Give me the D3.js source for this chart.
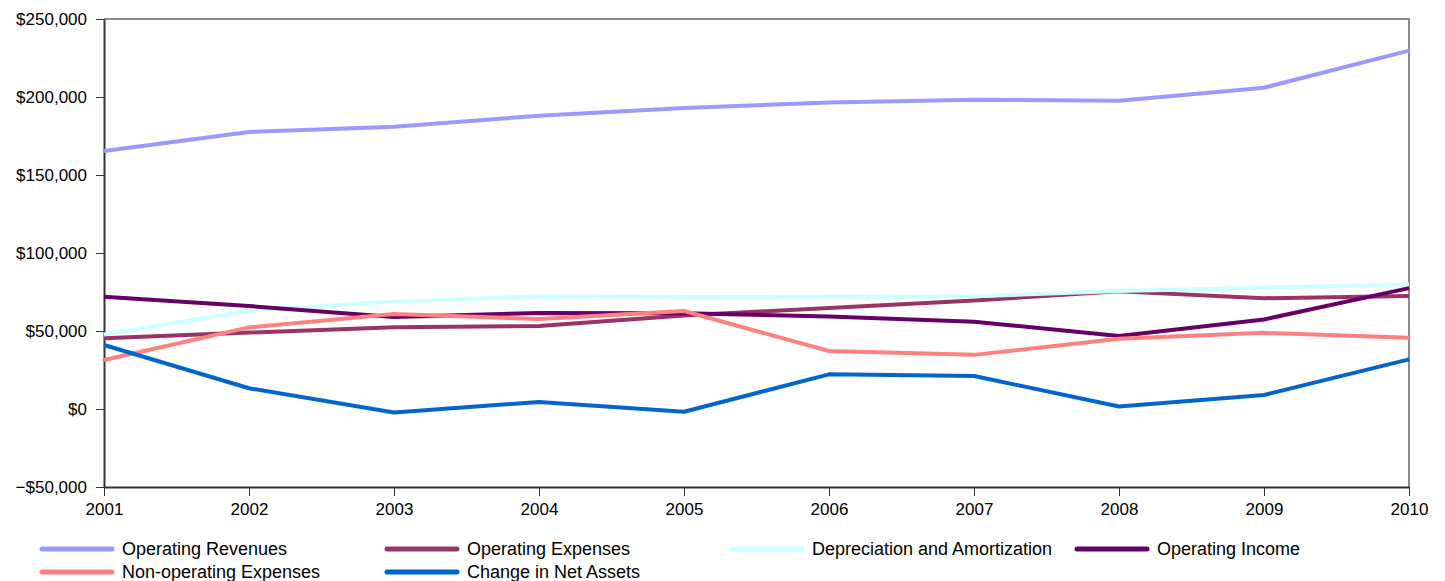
<!DOCTYPE html>
<html>
<head>
<meta charset="utf-8">
<script src="https://cdn.jsdelivr.net/npm/d3@7"></script>
<style>
  body { margin: 0; background: #fff; }
  svg text { font-family: "Liberation Sans", Arial, sans-serif; fill: #000; }
</style>
</head>
<body>
<svg id="chart" width="1445" height="581"></svg>
<script>
// data (thousands of dollars)
var years = [2001, 2002, 2003, 2004, 2005, 2006, 2007, 2008, 2009, 2010]
var operatingRevenues = [165400, 177600, 181000, 188000, 193000, 196400, 198300, 197600, 206000, 229700]
var operatingExpenses = [45400, 49000, 52400, 53200, 60000, 64700, 69600, 75400, 71000, 72400]
var depreciation = [47800, 63000, 68900, 72200, 71800, 71900, 72200, 75600, 77800, 80000]
var operatingIncome = [71900, 66000, 58900, 61600, 61400, 59300, 56000, 46800, 57400, 77500]
var nonOperating = [31400, 52300, 60900, 57700, 62800, 37200, 34700, 45000, 48800, 45700]
var changeNetAssets = [41000, 13300, -2300, 4500, -1800, 22200, 21200, 1600, 9000, 31800]
var yTicks = [-50000, 0, 50000, 100000, 150000, 200000, 250000]

var series = [
    {name: "Operating Revenues", color: "#9999ff", values: operatingRevenues},
    {name: "Operating Expenses", color: "#993366", values: operatingExpenses},
    {name: "Depreciation and Amortization", color: "#ccffff", values: depreciation},
    {name: "Operating Income", color: "#660066", values: operatingIncome},
    {name: "Non-operating Expenses", color: "#ff8080", values: nonOperating},
    {name: "Change in Net Assets", color: "#0066cc", values: changeNetAssets}
]

var svg = d3.select("#chart")
var plotLeft = 104, plotRight = 1409, plotTop = 19, plotBottom = 487

var x = d3.scaleLinear().domain([2001, 2010]).range([plotLeft, plotRight])
var y = d3.scaleLinear().domain([-50000, 250000]).range([plotBottom, plotTop])

var money = function(d) {
    return d < 0 ? "\u2212$" + d3.format(",")(-d) : "$" + d3.format(",")(d)
}

// frame (top and right)
svg.append("path")
    .attr("d", "M" + plotLeft + "," + plotTop + "H" + plotRight + "V" + plotBottom)
    .attr("fill", "none").attr("stroke", "#8a8a8a").attr("stroke-width", 2)

var yAxis = svg.append("g").attr("transform", "translate(" + plotLeft + ",0)")
    .call(d3.axisLeft(y).tickValues(yTicks).tickFormat(money).tickSize(8).tickSizeOuter(0))
var xAxis = svg.append("g").attr("transform", "translate(0," + plotBottom + ")")
    .call(d3.axisBottom(x).tickValues(years).tickFormat(d3.format("d")).tickSize(9).tickSizeOuter(0))

svg.selectAll(".domain").attr("stroke", "#333").attr("stroke-width", 2)
svg.selectAll(".tick line").attr("stroke", "#333")
svg.selectAll(".tick text").style("font-size", "17px").attr("fill", "#000")
yAxis.selectAll(".tick text").attr("x", -17)
xAxis.selectAll(".tick text").attr("y", 16)

var line = d3.line()
    .x(function(d, i) { return x(years[i]) })
    .y(function(d) { return y(d) })

svg.append("g").selectAll("path").data(series).enter().append("path")
    .attr("d", function(d) { return line(d.values) })
    .attr("fill", "none")
    .attr("stroke", function(d) { return d.color })
    .attr("stroke-width", 4)
    .attr("stroke-linejoin", "round")

// legend, 4 columns
var legend = svg.append("g").selectAll("g").data(series).enter().append("g")
    .attr("transform", function(d, i) {
        return "translate(" + (42 + (i % 4) * 345) + "," + (549 + Math.floor(i / 4) * 23) + ")"
    })
legend.append("line")
    .attr("x1", 0).attr("x2", 70)
    .attr("stroke", function(d) { return d.color })
    .attr("stroke-width", 5).attr("stroke-linecap", "round")
legend.append("text")
    .attr("x", 80).attr("dy", "0.35em")
    .style("font-size", "18px")
    .text(function(d) { return d.name })
</script>
</body>
</html>
